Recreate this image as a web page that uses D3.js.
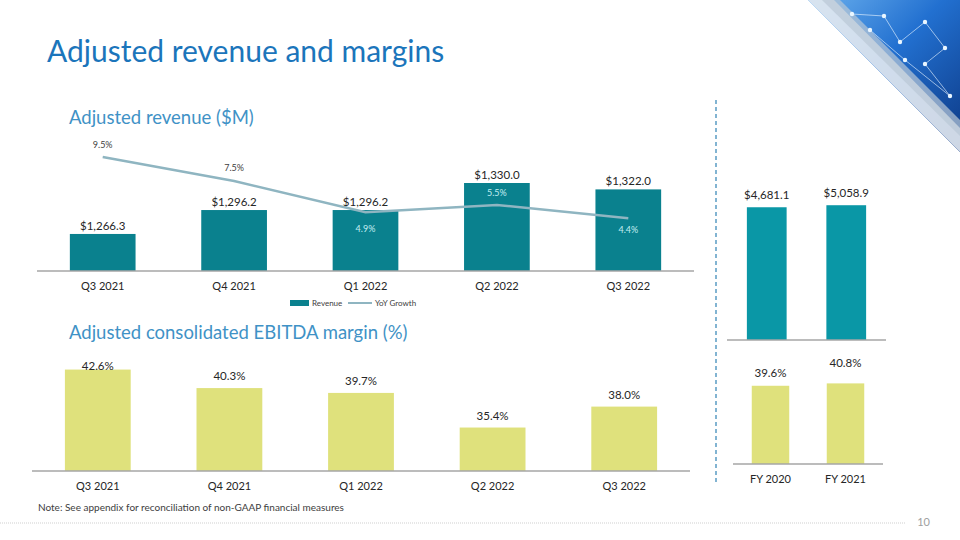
<!DOCTYPE html>
<html>
<head>
<meta charset="utf-8">
<script src="https://cdn.jsdelivr.net/npm/d3@7"></script>
<style>
  body { margin: 0; background: #ffffff; }
  svg { display: block; font-family: Lato, "Open Sans", sans-serif; }
  .axis { stroke: #a6a6a6; stroke-width: 1.5; }
</style>
</head>
<body>
<script>
// data
var quarters = ["Q3 2021", "Q4 2021", "Q1 2022", "Q2 2022", "Q3 2022"];
var revenue = [1266.3, 1296.2, 1296.2, 1330.0, 1322.0];
var yoyGrowth = [9.5, 7.5, 4.9, 5.5, 4.4];
var ebitdaMargin = [42.6, 40.3, 39.7, 35.4, 38.0];

var years = ["FY 2020", "FY 2021"];
var fyRevenue = [4681.1, 5058.9];
var fyMargin = [39.6, 40.8];

var width = 960;
var height = 540;
var barDark = "#0a818e";
var barBright = "#0a97a6";
var barYellow = "#dfe17c";
var labelColor = "#262626";

var svg = d3.select("body").append("svg")
    .attr("width", width)
    .attr("height", height);

// corner picture (decorative)
var defs = svg.append("defs");
var grad = defs.append("linearGradient").attr("id", "cornerBlue")
    .attr("x1", "0").attr("y1", "0").attr("x2", "1").attr("y2", "1");
grad.append("stop").attr("offset", "0").attr("stop-color", "#6fb4f0");
grad.append("stop").attr("offset", "0.45").attr("stop-color", "#2270d0");
grad.append("stop").attr("offset", "1").attr("stop-color", "#0b3580");
defs.append("clipPath").attr("id", "cornerClip")
    .append("polygon").attr("points", "808,0 960,0 960,152");

var corner = svg.append("g").attr("clip-path", "url(#cornerClip)");
corner.append("rect").attr("x", 800).attr("y", 0).attr("width", 160).attr("height", 160)
    .attr("fill", "url(#cornerBlue)");
corner.append("polygon").attr("points", "808,0 834,0 960,128 960,152")
    .attr("fill", "#e3e9f0").attr("opacity", 0.9);
corner.append("polygon").attr("points", "822,0 840,0 960,120 960,136")
    .attr("fill", "#b9c7d6").attr("opacity", 0.7);
var net = [[852, 14], [884, 16], [900, 42], [925, 22], [945, 48], [925, 64], [950, 96], [905, 60], [870, 30]];
corner.append("path")
    .attr("d", d3.line()(net))
    .attr("fill", "none").attr("stroke", "#e6f2ff").attr("stroke-width", 0.8).attr("opacity", 0.8);
corner.selectAll("circle.node").data(net).enter().append("circle")
    .attr("class", "node")
    .attr("cx", function (d) { return d[0]; })
    .attr("cy", function (d) { return d[1]; })
    .attr("r", 2.2)
    .attr("fill", "#eaf6ff");

// titles
svg.append("text").text("Adjusted revenue and margins")
    .attr("x", 47).attr("y", 62)
    .attr("font-size", 30).attr("fill", "#1b75bb");
svg.append("text").text("Adjusted revenue ($M)")
    .attr("x", 69).attr("y", 124)
    .attr("font-size", 18.5).attr("fill", "#3f92c6");
svg.append("text").text("Adjusted consolidated EBITDA margin (%)")
    .attr("x", 69).attr("y", 339)
    .attr("font-size", 18.5).attr("fill", "#3f92c6");

// dashed divider
svg.append("line")
    .attr("x1", 716).attr("x2", 716).attr("y1", 100).attr("y2", 482)
    .attr("stroke", "#5a9cc4").attr("stroke-width", 1.5).attr("stroke-dasharray", "4,3");

function bandScale(domain, x0, x1) {
    return d3.scaleBand().domain(domain).range([x0, x1])
        .paddingInner(0.5).paddingOuter(0.25);
}

function baseLine(x, y0) {
    var r = x.range();
    svg.append("line").classed("axis", true)
        .attr("x1", r[0]).attr("x2", r[1]).attr("y1", y0).attr("y2", y0);
}

function drawAxis(x, y0, pad, size) {
    baseLine(x, y0);
    var ax = svg.append("g").attr("transform", "translate(0," + y0 + ")")
        .call(d3.axisBottom(x).tickSize(0).tickPadding(pad));
    ax.select(".domain").remove();
    ax.selectAll("text").attr("font-size", size).attr("fill", labelColor)
        .attr("font-family", "Lato, 'Open Sans', sans-serif");
}

function drawBars(cls, cats, vals, x, y, color) {
    svg.selectAll("rect." + cls).data(vals).enter().append("rect")
        .attr("class", cls)
        .attr("x", function (d, i) { return x(cats[i]); })
        .attr("y", function (d) { return y(d); })
        .attr("width", x.bandwidth())
        .attr("height", function (d) { return y.range()[0] - y(d); })
        .attr("fill", color);
}

function drawLabels(cls, cats, vals, x, y, fmt, off, size, minY) {
    svg.selectAll("text." + cls).data(vals).enter().append("text")
        .attr("class", cls)
        .attr("x", function (d, i) { return x(cats[i]) + x.bandwidth() / 2; })
        .attr("y", function (d, i) {
            var o = Array.isArray(off) ? off[i] : off;
            return Math.max(y(d) - o, minY || 0);
        })
        .attr("text-anchor", "middle")
        .attr("font-size", size)
        .attr("fill", labelColor)
        .text(fmt);
}

var money = function (d) { return "$" + d3.format(",.1f")(d); };
var pct = function (d) { return d3.format(".1f")(d) + "%"; };

// ---- quarterly revenue + growth line
var xRev = bandScale(quarters, 37, 694);
var yRev = d3.scaleLinear().domain([1220, 1420]).range([271, 111]);
var yGrowth = d3.scaleLinear().domain([0, 13.333]).range([271, 111]);

drawBars("rev", quarters, revenue, xRev, yRev, barDark);
drawAxis(xRev, 271, 11, 11);
drawLabels("revlab", quarters, revenue, xRev, yRev, money, 4, 11.5);

var growthLine = d3.line()
    .x(function (d, i) { return xRev(quarters[i]) + xRev.bandwidth() / 2; })
    .y(function (d) { return yGrowth(d); });

svg.append("path")
    .datum(yoyGrowth)
    .attr("d", growthLine)
    .attr("fill", "none")
    .attr("stroke", "#8fb5c1")
    .attr("stroke-width", 2.5);

// label placement for the growth points: shift in px, and whether it sits on a bar
var growthShift = [-9, -10, 20, -9, 15];
var growthOnBar = [false, false, true, true, true];
svg.selectAll("text.glab").data(yoyGrowth).enter().append("text")
    .attr("class", "glab")
    .attr("x", function (d, i) { return xRev(quarters[i]) + xRev.bandwidth() / 2; })
    .attr("y", function (d, i) { return yGrowth(d) + growthShift[i]; })
    .attr("text-anchor", "middle")
    .attr("font-size", 9)
    .attr("fill", function (d, i) { return growthOnBar[i] ? "#c4eef2" : "#404040"; })
    .text(pct);

// legend
var lg = svg.append("g").attr("transform", "translate(290,303)");
lg.append("rect").attr("x", 0).attr("y", -3).attr("width", 19).attr("height", 6).attr("fill", barDark);
lg.append("text").text("Revenue").attr("x", 22).attr("y", 3)
    .attr("font-size", 8).attr("fill", "#404040");
lg.append("line").attr("x1", 58).attr("x2", 82).attr("y1", 0).attr("y2", 0)
    .attr("stroke", "#8fb5c1").attr("stroke-width", 2);
lg.append("text").text("YoY Growth").attr("x", 85).attr("y", 3)
    .attr("font-size", 8).attr("fill", "#404040");

// ---- full-year revenue
var xFy = bandScale(years, 727, 886);
var yFyRev = d3.scaleLinear().domain([-20000, 5100]).range([340, 205]);
drawBars("fyrev", years, fyRevenue, xFy, yFyRev, barBright);
drawLabels("fyrevlab", years, fyRevenue, xFy, yFyRev, money, 8, 11.5);

// ---- quarterly EBITDA margin
var xEb = bandScale(quarters, 32, 690);
var yEb = d3.scaleLinear().domain([30, 50]).range([471, 310]);
drawBars("eb", quarters, ebitdaMargin, xEb, yEb, barYellow);
drawAxis(xEb, 471, 11, 11);
drawLabels("eblab", quarters, ebitdaMargin, xEb, yEb, pct, 8, 11.5, 370);

// ---- full-year EBITDA margin
var xFyEb = bandScale(years, 733, 883);
var yFyEb = d3.scaleLinear().domain([0, 41]).range([464, 383]);
drawBars("fyeb", years, fyMargin, xFyEb, yFyEb, barYellow);
drawAxis(xFyEb, 464, 11, 11);
baseLine(xFy, 340);
drawLabels("fyeblab", years, fyMargin, xFyEb, yFyEb, pct, [9, 16], 11.5);

// footer
svg.append("text").text("Note: See appendix for reconciliation of non-GAAP financial measures")
    .attr("x", 38).attr("y", 511)
    .attr("font-size", 10).attr("fill", "#404040");
svg.append("line")
    .attr("x1", 0).attr("x2", 905).attr("y1", 523).attr("y2", 523)
    .attr("stroke", "#cfcfcf").attr("stroke-width", 1).attr("stroke-dasharray", "1,1");
svg.append("text").text("10")
    .attr("x", 930).attr("y", 526).attr("text-anchor", "end")
    .attr("font-size", 11).attr("fill", "#a0a0a0");
</script>
</body>
</html>
